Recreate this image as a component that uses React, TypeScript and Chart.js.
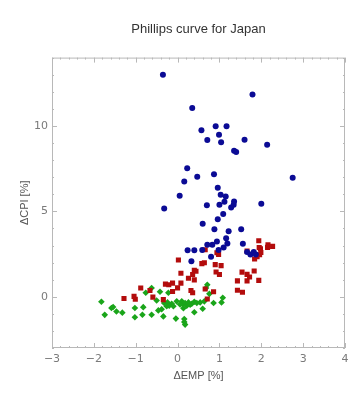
import React, { useEffect, useRef } from "react";
import { Chart, registerables } from "chart.js";

Chart.register(...registerables);

const TITLE = "Phillips curve for Japan";
const X_TITLE = "ΔEMP [%]";
const Y_TITLE = "ΔCPI [%]";
const X_TICKS = [-3, -2, -1, 0, 1, 2, 3, 4];
const Y_TICKS = [0, 5, 10];

const blueEmp = [
  -0.35, 1.79, 0.35, 0.57, 0.91, 1.17, 0.99, 0.71, 1.04, 1.6, 2.14, 1.35, 1.4,
  0.23, 0.47, 0.87, 0.16, 2.75, 0.96, 0.05, 1.03, 1.15, -0.32, 0.7, 1.0, 1.12,
  1.35, 1.34, 1.28, 2.0, 1.09, 0.96, 0.6, 0.88, 1.22, 1.52, 1.16, 0.94, 0.83,
  0.71, 1.19, 1.56, 1.1, 0.98, 0.24, 0.4, 0.59, 0.8, 0.33, 1.66, 1.74, 1.82,
  1.87,
];
const blueCpi = [
  13.0, 11.84, 11.05, 9.75, 9.98, 9.98, 9.48, 9.17, 9.05, 9.19, 8.9, 8.55,
  8.47, 7.52, 7.03, 7.17, 6.74, 6.96, 6.38, 5.91, 5.97, 5.87, 5.17, 5.35, 5.39,
  5.56, 5.58, 5.39, 5.23, 5.45, 4.84, 4.53, 4.28, 3.95, 3.84, 3.95, 3.43, 3.24,
  3.04, 3.04, 3.12, 3.1, 2.89, 2.73, 2.72, 2.72, 2.73, 2.34, 2.08, 2.62, 2.48,
  2.62, 2.48,
];

const redEmp = [
  0.66, 0.94, 0.98, 0.64, 0.58, 0.9, 1.04, 0.02, 0.08, 0.4, 0.44, 0.36, 0.26,
  0.92, 1.0, 1.54, 1.66, 1.72, 1.83, 1.43, 1.66, 1.94, 1.94, 1.95, 1.98, 2.16,
  2.15, 2.27, 1.66, 1.99, 1.96, 1.9, 1.84, 0.32, 0.36, 0.66, 0.86, 0.71, 1.43,
  1.55, 0.08, -0.29, -0.21, -0.12, 0.0, -0.12, -0.88, -0.66, -1.04, -1.01,
  -1.28, -0.59, -0.34, 0.4,
];
const redCpi = [
  2.75, 2.58, 2.48, 1.99, 1.94, 1.88, 1.82, 2.15, 1.38, 1.55, 1.49, 1.3, 1.08,
  1.45, 1.3, 1.44, 1.31, 1.16, 1.51, 0.93, 0.93, 0.96, 3.28, 2.88, 2.81, 3.04,
  2.89, 2.95, 2.67, 2.59, 2.46, 2.34, 2.21, 0.37, 0.23, 0.45, 0.29, -0.13,
  0.38, 0.26, 0.8, 0.74, 0.7, 0.8, 0.52, 0.31, 0.51, 0.37, 0.02, -0.15, -0.1,
  -0.02, -0.17, 0.99,
];

const greenEmp = [
  -1.82, -1.74, -1.58, -1.54, -1.46, -1.32, -1.02, -0.82, -1.02, -0.84, -0.62,
  -0.62, -0.76, -0.42, -0.22, -0.5, -0.46, -0.38, -0.34, -0.04, 0.16, 0.16,
  0.18, -0.32, -0.24, -0.14, -0.2, -0.26, -0.1, -0.02, 0.1, 0.12, 0.18, 0.06,
  0.22, 0.14, 0.26, 0.34, 0.4, 0.46, 0.54, 0.64, 0.86, 1.05, 1.08, 0.76, 0.68,
  0.71, 0.4, 0.6, 0.3,
];
const greenCpi = [
  -0.29, -1.06, -0.66, -0.6, -0.86, -0.93, -0.66, -0.61, -1.2, -1.05, -1.05,
  0.51, 0.23, 0.29, 0.23, -0.22, -0.8, -0.73, -1.15, -1.28, -1.3, -1.48,
  -1.63, -0.37, -0.33, -0.41, -0.52, -0.56, -0.56, -0.27, -0.27, -0.42, -0.37,
  -0.45, -0.52, -0.67, -0.33, -0.41, -0.29, -0.37, -0.33, -0.27, -0.37, -0.33,
  -0.06, 0.17, 0.51, 0.7, -0.91, -0.7, -0.47,
];

const toPoints = (xs: number[], ys: number[]) =>
  xs.map((x, i) => ({ x, y: ys[i] }));

const framePlugin = {
  id: "frameTicks",
  afterDatasetsDraw(chart: any) {
    const { ctx, chartArea, scales } = chart;
    const { left, right, top, bottom } = chartArea;
    const xs = scales.x;
    const ys = scales.y;
    ctx.save();
    ctx.strokeStyle = "#b8b8b8";
    ctx.lineWidth = 1;
    ctx.strokeRect(left + 0.5, top + 0.5, right - left - 1, bottom - top - 1);
    ctx.beginPath();
    for (let i = -30; i <= 40; i++) {
      const v = i / 10;
      if (i % 2 !== 0) continue;
      const px = Math.round(xs.getPixelForValue(v)) + 0.5;
      const len = i % 10 === 0 ? 5 : 2;
      ctx.moveTo(px, bottom);
      ctx.lineTo(px, bottom - len);
      ctx.moveTo(px, top);
      ctx.lineTo(px, top + len);
    }
    for (let v = -3; v <= 14; v++) {
      const py = Math.round(ys.getPixelForValue(v)) + 0.5;
      const len = v % 5 === 0 ? 5 : 2;
      ctx.moveTo(left, py);
      ctx.lineTo(left + len, py);
      ctx.moveTo(right, py);
      ctx.lineTo(right - len, py);
    }
    ctx.stroke();
    ctx.restore();
  },
};

export default function App() {
  const ref = useRef<HTMLCanvasElement>(null);
  useEffect(() => {
    if (!ref.current) return;
    const tickFont = { family: "DejaVu Sans", size: 11 };
    const chart = new Chart(ref.current, {
      type: "scatter",
      data: {
        datasets: [
          {
            label: "blue",
            data: toPoints(blueEmp, blueCpi),
            pointStyle: "circle",
            pointRadius: 3,
            backgroundColor: "#0b0b95",
            borderColor: "#0b0b95",
            borderWidth: 0,
          },
          {
            label: "red",
            data: toPoints(redEmp, redCpi),
            pointStyle: "rect",
            pointRadius: 3.6,
            backgroundColor: "#b30c0c",
            borderColor: "#b30c0c",
            borderWidth: 0,
          },
          {
            label: "green",
            data: toPoints(greenEmp, greenCpi),
            pointStyle: "rectRot",
            pointRadius: 3.3,
            backgroundColor: "#1aa51a",
            borderColor: "#1aa51a",
            borderWidth: 0,
          },
        ],
      },
      plugins: [framePlugin],
      options: {
        animation: false,
        responsive: true,
        maintainAspectRatio: false,
        layout: { padding: { left: 18, right: 19, top: 0, bottom: 17 } },
        plugins: {
          legend: { display: false },
          tooltip: { enabled: false },
          title: {
            display: true,
            text: TITLE,
            fullSize: false,
            color: "#333333",
            font: { family: "Liberation Sans", size: 13, weight: "normal" },
            padding: { top: 22, bottom: 20 },
          },
        },
        scales: {
          x: {
            type: "linear",
            min: -3,
            max: 4,
            afterBuildTicks: (s: any) => {
              s.ticks = X_TICKS.map((v) => ({ value: v }));
            },
            afterFit: (s: any) => {
              s.height = 35;
            },
            grid: { display: false, drawTicks: false },
            border: { display: false },
            ticks: {
              color: "#7a7a7a",
              font: tickFont,
              padding: 5,
              callback: (v: any) => (v < 0 ? "\u2212" + Math.abs(v) : String(v)),
            },
            title: {
              display: true,
              text: X_TITLE,
              color: "#555555",
              font: { family: "Liberation Sans", size: 11 },
              padding: { top: 1, bottom: 0 },
            },
          },
          y: {
            type: "linear",
            min: -3,
            max: 14,
            afterBuildTicks: (s: any) => {
              s.ticks = Y_TICKS.map((v) => ({ value: v }));
            },
            afterFit: (s: any) => {
              s.width = 34;
            },
            grid: { display: false, drawTicks: false },
            border: { display: false },
            ticks: { color: "#7a7a7a", font: tickFont, padding: 4 },
            title: {
              display: true,
              text: Y_TITLE,
              color: "#555555",
              font: { family: "Liberation Sans", size: 11 },
              padding: { top: 0, bottom: 8 },
            },
          },
        },
      },
    });
    return () => chart.destroy();
  }, []);
  return (
    <div style={{ position: "fixed", left: 0, top: 0, width: 364, height: 400, background: "#fff" }}>
      <canvas ref={ref} />
    </div>
  );
}
